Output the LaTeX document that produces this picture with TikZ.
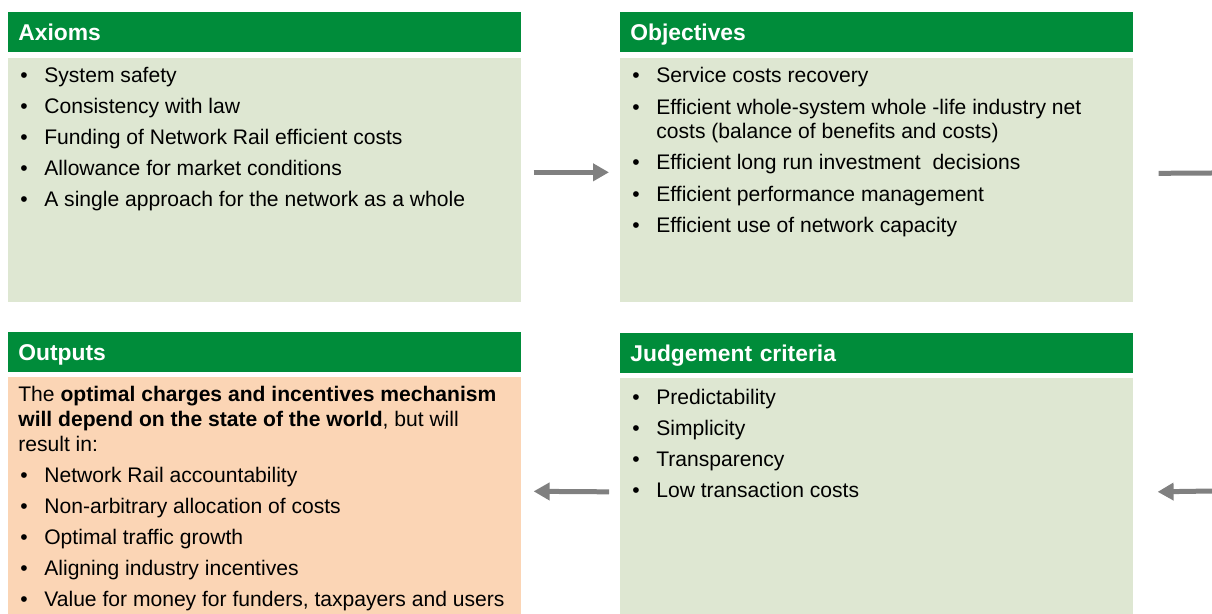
\documentclass[tikz,border=0pt]{standalone}
\usepackage{fontspec}
\setmainfont{Liberation Sans}
\usetikzlibrary{positioning,arrows.meta}
\definecolor{hdgreen}{RGB}{0,140,58}
\definecolor{bodygreen}{RGB}{222,231,210}
\definecolor{bodypeach}{RGB}{251,213,181}
\definecolor{arrowgrey}{RGB}{128,128,128}
\newcommand{\bul}{\makebox[0.48cm][l]{\textbullet}}

\begin{document}
\begin{tikzpicture}[x=0.02cm,y=-0.02cm]
\tikzstyle{every node}+=[inner sep=0pt]
\tikzstyle{head}=[fill=hdgreen, text=white, anchor=north west, font=\fontsize{13}{15}\selectfont\bfseries, text width=9.86cm, inner xsep=0.2cm, minimum height=0.8cm, text height=0.41cm, text depth=0.07cm, align=left]
\tikzstyle{panel}=[anchor=north west, minimum width=10.26cm]
\tikzstyle{item}=[anchor=base west, font=\fontsize{12}{14.2}\selectfont, align=left]
\tikzstyle{flow}=[draw=arrowgrey, line width=0.1cm, -{Triangle[length=0.32cm,width=0.34cm]}]
\tikzstyle{flowline}=[draw=arrowgrey, line width=0.1cm]
\useasboundingbox (0,0) rectangle (1212,614);

\node (axhead) [head] at (8,12) {Axioms};
\node (axbody) [panel, fill=bodygreen, minimum height=4.88cm] at (8,58) {};
\node (objhead) [head] at (620,12) {Objectives};
\node (objbody) [panel, fill=bodygreen, minimum height=4.88cm] at (620,58) {};
\node (outhead) [head] at (8,332) {Outputs};
\node (outbody) [panel, fill=bodypeach, minimum height=4.76cm] at (8,377) {};
\node (judhead) [head] at (620,333) {Judgement criteria};
\node (judbody) [panel, fill=bodygreen, minimum height=4.74cm] at (620,378) {};

\foreach \t [count=\i] in {System safety, Consistency with law, Funding of Network Rail efficient costs, Allowance for market conditions, A single approach for the network as a whole}
  \node (ax\i) [item] at (20,{83+31*(\i-1)}) {\bul\t};

\node (obj1) [item] at (632,83) {\bul Service costs recovery};
\node (obj2) [item] at (632,139) {\bul Efficient whole-system whole -life industry net\\\hspace{0.48cm}costs (balance of benefits and costs)};
\node (obj3) [item] at (632,170) {\bul Efficient long run investment \ decisions};
\node (obj4) [item] at (632,202) {\bul Efficient performance management};
\node (obj5) [item] at (632,233) {\bul Efficient use of network capacity};

\foreach \t [count=\i] in {Predictability, Simplicity, Transparency, Low transaction costs}
  \node (jud\i) [item] at (632,{404+31*(\i-1)}) {\bul\t};

\node (outtext) [item] at (18,451) {The \textbf{optimal charges and incentives mechanism}\\\textbf{will depend on the state of the world}, but will\\result in:};
\foreach \t [count=\i] in {Network Rail accountability, Non-arbitrary allocation of costs, Optimal traffic growth, Aligning industry incentives, {Value for money for funders, taxpayers and users}}
  \node (out\i) [item] at (20,{482+31*(\i-1)}) {\bul\t};

\coordinate (topout) at (1212,173);
\coordinate (botin) at (1212,491);
\draw [flow] ([xshift=0.24cm,yshift=0.16cm]axbody.east) -- ([xshift=-0.22cm,yshift=0.16cm]objbody.west);
\draw [flowline] ([xshift=0.5cm,yshift=0.14cm]objbody.east) -- (topout);
\draw [flow] ([xshift=-0.22cm,yshift=0.1cm]judbody.west) -- ([xshift=0.24cm,yshift=0.1cm]outbody.east);
\draw [flow] (botin) -- ([xshift=0.48cm,yshift=0.1cm]judbody.east);
\end{tikzpicture}
\end{document}
